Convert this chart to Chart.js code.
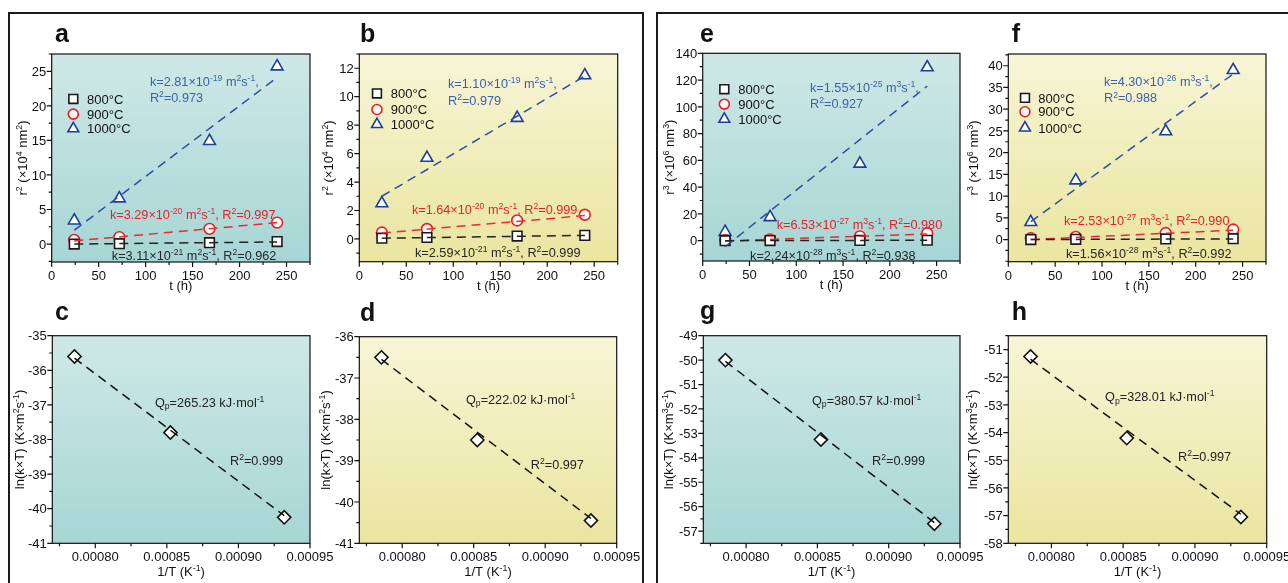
<!DOCTYPE html>
<html><head><meta charset="utf-8">
<script src="https://cdn.jsdelivr.net/npm/chart.js@4.4.1/dist/chart.umd.min.js"></script>
<style>
html,body{margin:0;padding:0;background:#fff;}
body{position:relative;width:1288px;height:583px;overflow:hidden;}
.frame{position:absolute;box-sizing:border-box;border:2.5px solid #1b1b1b;}
canvas{position:absolute;left:0;top:0;}
</style></head><body>
<div class="frame" style="left:8px;top:12px;width:636px;height:700px"></div>
<div class="frame" style="left:656px;top:12px;width:700px;height:700px"></div>
<script>
// ---------------- data ----------------
const hours = [24, 72, 168, 240];
const fitHours = [24, 240];
const invT = [0.0007855, 0.0008525, 0.000932];
const invTFit = [0.0007855, 0.000932];
const tempLabels = ['800°C', '900°C', '1000°C'];

// a : r^2 (x10^4 nm^2)
const a800 = [0.0, 0.05, 0.2, 0.35];
const a900 = [0.6, 1.0, 2.2, 3.1];
const a1000 = [3.4, 6.6, 14.9, 25.7];
const aFit800 = [0.0, 0.3];
const aFit900 = [0.45, 3.1];
const aFit1000 = [2.0, 24.1];
// b : r^2 (x10^4 nm^2)
const b800 = [0.05, 0.1, 0.2, 0.25];
const b900 = [0.45, 0.7, 1.3, 1.7];
const b1000 = [2.5, 5.7, 8.5, 11.5];
const bFit800 = [0.05, 0.25];
const bFit900 = [0.42, 1.64];
const bFit1000 = [3.0, 11.45];
// e : r^3 (x10^6 nm^3)
const e800 = [0.0, 0.05, 0.2, 0.3];
const e900 = [0.3, 0.9, 3.2, 5.5];
const e1000 = [6.5, 17.5, 57.5, 129.5];
const eFit800 = [0.0, 0.3];
const eFit900 = [-0.2, 5.0];
const eFit1000 = [-4.5, 115.5];
// f : r^3 (x10^6 nm^3)
const f800 = [0.0, 0.05, 0.15, 0.2];
const f900 = [0.3, 0.6, 1.5, 2.3];
const f1000 = [4.0, 13.6, 24.9, 39.0];
const fFit800 = [0.0, 0.15];
const fFit900 = [0.0, 2.15];
const fFit1000 = [4.1, 38.1];
// Arrhenius panels: ln(k x T)
const cLn = [-35.6, -37.8, -40.25];
const cFit = [-35.65, -40.2];
const dLn = [-36.5, -38.5, -40.45];
const dFit = [-36.55, -40.4];
const gLn = [-50.0, -53.25, -56.7];
const gFit = [-50.05, -56.65];
const hLn = [-51.25, -54.2, -57.05];
const hFit = [-51.35, -56.95];

// tick labels
const tTickLabels = ['0', '50', '100', '150', '200', '250'];
const invTTickLabels = ['0.00080', '0.00085', '0.00090', '0.00095'];
const aYTickLabels = ['0', '5', '10', '15', '20', '25'];
const bYTickLabels = ['0', '2', '4', '6', '8', '10', '12'];
const eYTickLabels = ['0', '20', '40', '60', '80', '100', '120', '140'];
const fYTickLabels = ['0', '5', '10', '15', '20', '25', '30', '35', '40'];
const cYTickLabels = ['-41', '-40', '-39', '-38', '-37', '-36', '-35'];
const dYTickLabels = ['-41', '-40', '-39', '-38', '-37', '-36'];
const gYTickLabels = ['-57', '-56', '-55', '-54', '-53', '-52', '-51', '-50', '-49'];
const hYTickLabels = ['-58', '-57', '-56', '-55', '-54', '-53', '-52', '-51'];

// ---------------- styles ----------------
const FONT = '"Liberation Sans", Arial, Helvetica, sans-serif';
const MK = { blk: '#1a1a1a', red: '#ec1c24', blue: '#1d3f9a' };
const TX = { blk: '#262626', red: '#e8202a', blue: '#3a62ad' };
const FIT = { blk: '#222222', red: '#ea2a30', blue: '#2b4fa3' };
const TEAL = ['#cfe8e7', '#a6d6d4'];
const YELLOW = ['#f7f5d6', '#eae59f'];
const AXW = 30, AXH = 30;

function parseRich(s) {
  const out = []; let buf = ''; let i = 0;
  while (i < s.length) {
    const c = s[i];
    if ((c === '^' || c === '_') && s[i + 1] === '{') {
      if (buf) { out.push({ t: buf, m: 0 }); buf = ''; }
      const j = s.indexOf('}', i);
      out.push({ t: s.slice(i + 2, j), m: c === '^' ? 1 : -1 });
      i = j + 1;
    } else { buf += c; i++; }
  }
  if (buf) out.push({ t: buf, m: 0 });
  return out;
}
function drawRich(ctx, s, x, y, o) {
  o = o || {};
  const size = o.size || 13, bold = o.bold ? 'bold ' : '';
  const small = size * 0.68;
  const parts = parseRich(s);
  let w = 0;
  parts.forEach(p => { ctx.font = bold + (p.m ? small : size) + 'px ' + FONT; p.w = ctx.measureText(p.t).width; w += p.w; });
  let cx = o.align === 'center' ? x - w / 2 : (o.align === 'right' ? x - w : x);
  const base = o.baseline ? y : y + size * 0.36;
  ctx.fillStyle = o.color || '#000';
  ctx.textAlign = 'left'; ctx.textBaseline = 'alphabetic';
  parts.forEach(p => {
    ctx.font = bold + (p.m ? small : size) + 'px ' + FONT;
    const dy = p.m === 1 ? -size * 0.38 : (p.m === -1 ? size * 0.22 : 0);
    ctx.fillText(p.t, cx, base + dy);
    cx += p.w;
  });
}
function drawMarker(ctx, style, x, y, r, color) {
  ctx.save();
  ctx.fillStyle = '#fff'; ctx.strokeStyle = color; ctx.lineWidth = 1.6;
  ctx.beginPath();
  if (style === 'rect') { const s = r * 1.414; ctx.rect(x - s / 2, y - s / 2, s, s); }
  else if (style === 'circle') { ctx.arc(x, y, r, 0, Math.PI * 2); }
  else if (style === 'triangle') { const c = Math.cos(Math.PI / 6) * r; ctx.moveTo(x, y - r); ctx.lineTo(x + c, y + r / 2); ctx.lineTo(x - c, y + r / 2); ctx.closePath(); }
  else { ctx.moveTo(x, y - r); ctx.lineTo(x + r, y); ctx.lineTo(x, y + r); ctx.lineTo(x - r, y); ctx.closePath(); }
  ctx.fill(); ctx.stroke();
  ctx.restore();
}
function minorValues(majors, min, max) {
  const step = (majors[1] - majors[0]) / 2, out = [];
  const eps = step * 1e-6;
  for (let v = majors[0] - step; v >= min - eps; v -= step) out.push(v);
  for (let v = majors[0] + step; v <= max + eps; v += 2 * step) out.push(v);
  return out;
}

function decoPlugin(p) {
  return {
    id: 'deco' + p.letter,
    beforeDraw(chart) {
      const { ctx, chartArea: a } = chart;
      const g = ctx.createLinearGradient(0, a.top, 0, a.bottom);
      g.addColorStop(0, p.bg[0]); g.addColorStop(1, p.bg[1]);
      ctx.save(); ctx.fillStyle = g;
      ctx.fillRect(a.left, a.top, a.right - a.left, a.bottom - a.top);
      ctx.restore();
    },
    afterDraw(chart) {
      const { ctx, chartArea: a } = chart;
      const xs = chart.scales.x, ys = chart.scales.y;
      ctx.save();
      // axis box
      ctx.strokeStyle = '#111'; ctx.lineWidth = 1.2;
      ctx.strokeRect(a.left, a.top, a.right - a.left, a.bottom - a.top);
      // ticks
      const xMaj = p.xTicks.map(parseFloat), yMaj = p.yTicks.map(parseFloat);
      ctx.beginPath();
      xMaj.forEach(v => { const px = xs.getPixelForValue(v); ctx.moveTo(px, a.bottom); ctx.lineTo(px, a.bottom + 5); });
      minorValues(xMaj, p.x.min, p.x.max).forEach(v => { const px = xs.getPixelForValue(v); ctx.moveTo(px, a.bottom); ctx.lineTo(px, a.bottom + 3); });
      yMaj.forEach(v => { const py = ys.getPixelForValue(v); ctx.moveTo(a.left, py); ctx.lineTo(a.left - 5, py); });
      minorValues(yMaj, p.y.min, p.y.max).forEach(v => { const py = ys.getPixelForValue(v); ctx.moveTo(a.left, py); ctx.lineTo(a.left - 3, py); });
      ctx.stroke();
      // tick labels
      p.xTicks.forEach(l => drawRich(ctx, l, xs.getPixelForValue(parseFloat(l)), a.bottom + p.xLabOff, { size: 13, align: 'center', color: '#111' }));
      p.yTicks.forEach(l => drawRich(ctx, l, a.left - 5.5, ys.getPixelForValue(parseFloat(l)), { size: 13, align: 'right', color: '#111' }));
      // annotations
      p.notes.forEach(n => drawRich(ctx, n.text, xs.getPixelForValue(n.x), ys.getPixelForValue(n.y), { size: 12.7, color: n.color }));
      // legend
      if (p.legend) {
        p.series.forEach((s, i) => {
          const py = ys.getPixelForValue(p.legend.ys[i]);
          drawMarker(ctx, s.style, xs.getPixelForValue(p.legend.mx), py, s.r * 0.92, s.color);
          drawRich(ctx, s.label, xs.getPixelForValue(p.legend.tx), py, { size: 13, color: '#111' });
        });
      }
      // axis titles
      drawRich(ctx, p.xTitle, (a.left + a.right) / 2, a.bottom + p.xTitleOff, { size: 13, align: 'center', color: '#111' });
      ctx.save();
      ctx.translate(a.left - p.yTitleOff, (a.top + a.bottom) / 2);
      ctx.rotate(-Math.PI / 2);
      drawRich(ctx, p.yTitle, 0, 0, { size: 13, align: 'center', color: '#111' });
      ctx.restore();
      // panel letter
      drawRich(ctx, p.letter, p.letterPos[0], p.letterPos[1], { size: 25, bold: true, baseline: true, color: '#111' });
      ctx.restore();
    }
  };
}

function buildPanel(p) {
  const cv = document.createElement('canvas');
  cv.width = 1288; cv.height = 583;
  document.body.appendChild(cv);
  const datasets = [];
  p.fits.forEach(f => datasets.push({
    type: 'line', data: f.x.map((x, i) => ({ x, y: f.y[i] })),
    borderColor: f.color, borderWidth: 1.5, borderDash: [9, 6], pointRadius: 0, fill: false, tension: 0, order: 0
  }));
  p.series.forEach(s => datasets.push({
    type: 'scatter', label: s.label, data: s.x.map((x, i) => ({ x, y: s.y[i] })),
    pointStyle: s.style, pointRadius: s.r, pointBorderWidth: 1.6,
    pointBorderColor: s.color, pointBackgroundColor: '#ffffff', order: 1
  }));
  const axisBase = {
    type: 'linear', grid: { display: false, drawTicks: false }, border: { display: false }, ticks: { display: false }
  };
  new Chart(cv, {
    type: 'scatter',
    data: { datasets },
    options: {
      responsive: false, animation: false, devicePixelRatio: 1, events: [],
      layout: { autoPadding: false, padding: { left: p.area.l - AXW, top: p.area.t, right: 1288 - p.area.r, bottom: 583 - p.area.b - AXH } },
      plugins: { legend: { display: false }, tooltip: { enabled: false } },
      scales: {
        x: Object.assign({}, axisBase, { position: 'bottom', min: p.x.min, max: p.x.max,
          afterFit(sc) { sc.height = AXH; sc.paddingLeft = 0; sc.paddingRight = 0; } }),
        y: Object.assign({}, axisBase, { position: 'left', min: p.y.min, max: p.y.max,
          afterFit(sc) { sc.width = AXW; sc.paddingTop = 0; sc.paddingBottom = 0; } })
      }
    },
    plugins: [decoPlugin(p)]
  });
}

function growthSeries(v800, v900, v1000) {
  return [
    { label: tempLabels[0], x: hours, y: v800, style: 'rect', r: 6.8, color: MK.blk },
    { label: tempLabels[1], x: hours, y: v900, style: 'circle', r: 5.4, color: MK.red },
    { label: tempLabels[2], x: hours, y: v1000, style: 'triangle', r: 6.8, color: MK.blue }
  ];
}
function growthFits(f800, f900, f1000) {
  return [
    { x: fitHours, y: f800, color: FIT.blk },
    { x: fitHours, y: f900, color: FIT.red },
    { x: fitHours, y: f1000, color: FIT.blue }
  ];
}
function arrSeries(v) { return [{ label: '', x: invT, y: v, style: 'rectRot', r: 6.6, color: '#111' }]; }

const R2 = 'r^{2} (×10^{4} nm^{2})', R3 = 'r^{3} (×10^{6} nm^{3})';
const LN2 = 'ln(k×T) (K×m^{2}s^{-1})', LN3 = 'ln(k×T) (K×m^{3}s^{-1})';
const XT = 't (h)', XI = '1/T (K^{-1})';

const panels = [
  { letter: 'a', letterPos: [55, 41.7], bg: TEAL, area: { l: 51.7, t: 54, r: 310, b: 262 },
    x: { min: 0, max: 275 }, y: { min: -2.6, max: 27.5 }, xTicks: tTickLabels, yTicks: aYTickLabels,
    series: growthSeries(a800, a900, a1000), fits: growthFits(aFit800, aFit900, aFit1000),
    notes: [
      { text: 'k=2.81×10^{-19} m^{2}s^{-1},', x: 104.6, y: 23.6, color: TX.blue },
      { text: 'R^{2}=0.973', x: 104.6, y: 21.2, color: TX.blue },
      { text: 'k=3.29×10^{-20} m^{2}s^{-1}, R^{2}=0.997', x: 62, y: 4.35, color: TX.red },
      { text: 'k=3.11×10^{-21} m^{2}s^{-1}, R^{2}=0.962', x: 64, y: -1.6, color: TX.blk }
    ],
    legend: { mx: 23, tx: 37.6, ys: [21.0, 18.8, 16.7] },
    xTitle: XT, yTitle: R2, xLabOff: 13.7, xTitleOff: 23.7, yTitleOff: 29 },
  { letter: 'b', letterPos: [360, 41.7], bg: YELLOW, area: { l: 359.3, t: 54, r: 617.7, b: 261.7 },
    x: { min: 0, max: 275 }, y: { min: -1.6, max: 13 }, xTicks: tTickLabels, yTicks: bYTickLabels,
    series: growthSeries(b800, b900, b1000), fits: growthFits(bFit800, bFit900, bFit1000),
    notes: [
      { text: 'k=1.10×10^{-19} m^{2}s^{-1},', x: 94.4, y: 10.94, color: TX.blue },
      { text: 'R^{2}=0.979', x: 94.4, y: 9.74, color: TX.blue },
      { text: 'k=1.64×10^{-20} m^{2}s^{-1}, R^{2}=0.999', x: 56, y: 2.06, color: TX.red },
      { text: 'k=2.59×10^{-21} m^{2}s^{-1}, R^{2}=0.999', x: 59.3, y: -0.96, color: TX.blk }
    ],
    legend: { mx: 18.8, tx: 33.6, ys: [10.23, 9.1, 8.05] },
    xTitle: XT, yTitle: R2, xLabOff: 13.7, xTitleOff: 23.7, yTitleOff: 31 },
  { letter: 'c', letterPos: [55, 319.5], bg: TEAL, area: { l: 52.3, t: 335.7, r: 310, b: 543.3 },
    x: { min: 0.00077, max: 0.00095 }, y: { min: -41, max: -35 }, xTicks: invTTickLabels, yTicks: cYTickLabels,
    series: arrSeries(cLn), fits: [{ x: invTFit, y: cFit, color: '#111' }],
    notes: [
      { text: 'Q_{p}=265.23 kJ·mol^{-1}', x: 0.0008417, y: -36.92, color: '#222' },
      { text: 'R^{2}=0.999', x: 0.0008941, y: -38.61, color: '#222' }
    ],
    legend: null, xTitle: XI, yTitle: LN2, xLabOff: 13.4, xTitleOff: 28.4, yTitleOff: 33 },
  { letter: 'd', letterPos: [360, 320.5], bg: YELLOW, area: { l: 359.3, t: 336.7, r: 616.7, b: 543.3 },
    x: { min: 0.00077, max: 0.00095 }, y: { min: -41, max: -36 }, xTicks: invTTickLabels, yTicks: dYTickLabels,
    series: arrSeries(dLn), fits: [{ x: invTFit, y: dFit, color: '#111' }],
    notes: [
      { text: 'Q_{p}=222.02 kJ·mol^{-1}', x: 0.0008446, y: -37.51, color: '#222' },
      { text: 'R^{2}=0.997', x: 0.0008899, y: -39.08, color: '#222' }
    ],
    legend: null, xTitle: XI, yTitle: LN2, xLabOff: 13.4, xTitleOff: 28.4, yTitleOff: 34 },
  { letter: 'e', letterPos: [700, 41.7], bg: TEAL, area: { l: 702.7, t: 53.3, r: 960, b: 261 },
    x: { min: 0, max: 275 }, y: { min: -15.2, max: 140 }, xTicks: tTickLabels, yTicks: eYTickLabels,
    series: growthSeries(e800, e900, e1000), fits: growthFits(eFit800, eFit900, eFit1000),
    notes: [
      { text: 'k=1.55×10^{-25} m^{3}s^{-1},', x: 114.7, y: 114.7, color: TX.blue },
      { text: 'R^{2}=0.927', x: 114.7, y: 102.8, color: TX.blue },
      { text: 'k=6.53×10^{-27} m^{3}s^{-1}, R^{2}=0.980', x: 79.1, y: 12.5, color: TX.red },
      { text: 'k=2.24×10^{-28} m^{3}s^{-1}, R^{2}=0.938', x: 50.6, y: -10.7, color: TX.blk }
    ],
    legend: { mx: 23.1, tx: 38, ys: [113.2, 102, 90.8] },
    xTitle: XT, yTitle: R3, xLabOff: 13.7, xTitleOff: 23.7, yTitleOff: 33 },
  { letter: 'f', letterPos: [1011.7, 41.7], bg: YELLOW, area: { l: 1008.3, t: 54, r: 1266, b: 261.7 },
    x: { min: 0, max: 275 }, y: { min: -5.1, max: 42.7 }, xTicks: tTickLabels, yTicks: fYTickLabels,
    series: growthSeries(f800, f900, f1000), fits: growthFits(fFit800, fFit900, fFit1000),
    notes: [
      { text: 'k=4.30×10^{-26} m^{3}s^{-1},', x: 102.1, y: 36.5, color: TX.blue },
      { text: 'R^{2}=0.988', x: 102.1, y: 32.6, color: TX.blue },
      { text: 'k=2.53×10^{-27} m^{3}s^{-1}, R^{2}=0.990', x: 59.4, y: 4.44, color: TX.red },
      { text: 'k=1.56×10^{-28} m^{3}s^{-1}, R^{2}=0.992', x: 61.6, y: -3.16, color: TX.blk }
    ],
    legend: { mx: 17.8, tx: 32, ys: [32.6, 29.4, 25.7] },
    xTitle: XT, yTitle: R3, xLabOff: 13.7, xTitleOff: 23.7, yTitleOff: 35 },
  { letter: 'g', letterPos: [700, 318.5], bg: TEAL, area: { l: 703.3, t: 335.7, r: 960, b: 543.3 },
    x: { min: 0.00077, max: 0.00095 }, y: { min: -57.5, max: -49 }, xTicks: invTTickLabels, yTicks: gYTickLabels,
    series: arrSeries(gLn), fits: [{ x: invTFit, y: gFit, color: '#111' }],
    notes: [
      { text: 'Q_{p}=380.57 kJ·mol^{-1}', x: 0.0008462, y: -51.63, color: '#222' },
      { text: 'R^{2}=0.999', x: 0.0008883, y: -54.12, color: '#222' }
    ],
    legend: null, xTitle: XI, yTitle: LN3, xLabOff: 13.4, xTitleOff: 28.4, yTitleOff: 35 },
  { letter: 'h', letterPos: [1011.7, 320], bg: YELLOW, area: { l: 1008.3, t: 335.7, r: 1266.7, b: 543.3 },
    x: { min: 0.00077, max: 0.00095 }, y: { min: -58, max: -50.5 }, xTicks: invTTickLabels, yTicks: hYTickLabels,
    series: arrSeries(hLn), fits: [{ x: invTFit, y: hFit, color: '#111' }],
    notes: [
      { text: 'Q_{p}=328.01 kJ·mol^{-1}', x: 0.0008374, y: -52.69, color: '#222' },
      { text: 'R^{2}=0.997', x: 0.0008882, y: -54.87, color: '#222' }
    ],
    legend: null, xTitle: XI, yTitle: LN3, xLabOff: 13.4, xTitleOff: 28.4, yTitleOff: 36 }
];

panels.forEach(buildPanel);
</script>
</body></html>
